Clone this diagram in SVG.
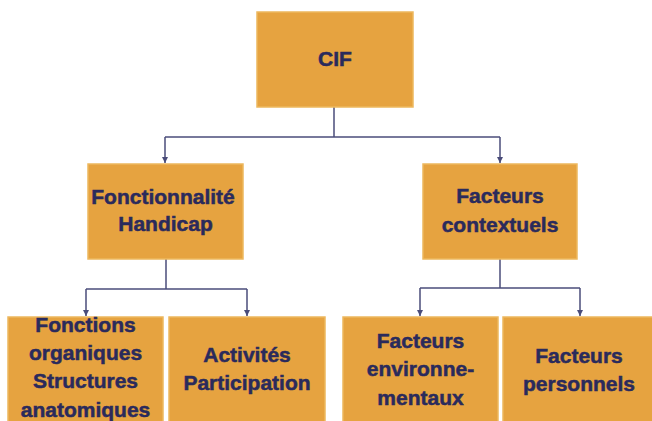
<svg xmlns="http://www.w3.org/2000/svg" width="652" height="421" viewBox="0 0 652 421">
<defs>
<style>
.box{fill:#E6A340;stroke:#EDB85E;stroke-width:1.5}
.t{font-family:"Liberation Sans",Arial,sans-serif;font-weight:bold;font-size:21px;fill:#2A2A5C;stroke:#2A2A5C;stroke-width:0.5;text-anchor:middle}
.c{fill:none;stroke:#4A4C7A;stroke-width:1.5}
</style>
<marker id="a" viewBox="0 0 6 6" refX="6" refY="3" markerWidth="6" markerHeight="6" orient="auto" markerUnits="userSpaceOnUse">
<path d="M0,0 L6,3 L0,6 Z" fill="#4A4C7A"/>
</marker>
</defs>
<rect width="652" height="421" fill="#fff"/>
<g id="connectors">
<path class="c" d="M334,107 V137"/>
<path class="c" d="M165,137 H500"/>
<path class="c" d="M165,137 V163" marker-end="url(#a)"/>
<path class="c" d="M500,137 V163" marker-end="url(#a)"/>
<path class="c" d="M166,259 V289"/>
<path class="c" d="M86,289 H247"/>
<path class="c" d="M86,289 V316" marker-end="url(#a)"/>
<path class="c" d="M247,289 V316" marker-end="url(#a)"/>
<path class="c" d="M500,259 V288"/>
<path class="c" d="M420,288 H580"/>
<path class="c" d="M420,288 V316" marker-end="url(#a)"/>
<path class="c" d="M580,288 V316" marker-end="url(#a)"/>
</g>
<g id="cif">
<rect class="box" x="257" y="12" width="156" height="95"/>
<text class="t" x="335" y="66">CIF</text>
</g>
<g id="fonctionnalite">
<rect class="box" x="88" y="164" width="155" height="95"/>
<text class="t" x="163" y="204">Fonctionnalité</text>
<text class="t" x="165.5" y="231">Handicap</text>
</g>
<g id="contextuels">
<rect class="box" x="423" y="164" width="154" height="95"/>
<text class="t" x="500" y="203">Facteurs</text>
<text class="t" x="500" y="232">contextuels</text>
</g>
<g id="fonctions">
<rect class="box" x="8" y="317" width="155" height="110"/>
<text class="t" x="85.5" y="332">Fonctions</text>
<text class="t" x="85.5" y="360">organiques</text>
<text class="t" x="85.5" y="388">Structures</text>
<text class="t" x="85.5" y="417">anatomiques</text>
</g>
<g id="activites">
<rect class="box" x="169" y="317" width="156" height="110"/>
<text class="t" x="247" y="362">Activités</text>
<text class="t" x="247" y="390">Participation</text>
</g>
<g id="environnementaux">
<rect class="box" x="343" y="317" width="155" height="110"/>
<text class="t" x="420.5" y="348">Facteurs</text>
<text class="t" x="420.5" y="376">environne-</text>
<text class="t" x="420.5" y="405">mentaux</text>
</g>
<g id="personnels">
<rect class="box" x="503" y="317" width="155" height="110"/>
<text class="t" x="579" y="363">Facteurs</text>
<text class="t" x="579" y="391">personnels</text>
</g>
</svg>
